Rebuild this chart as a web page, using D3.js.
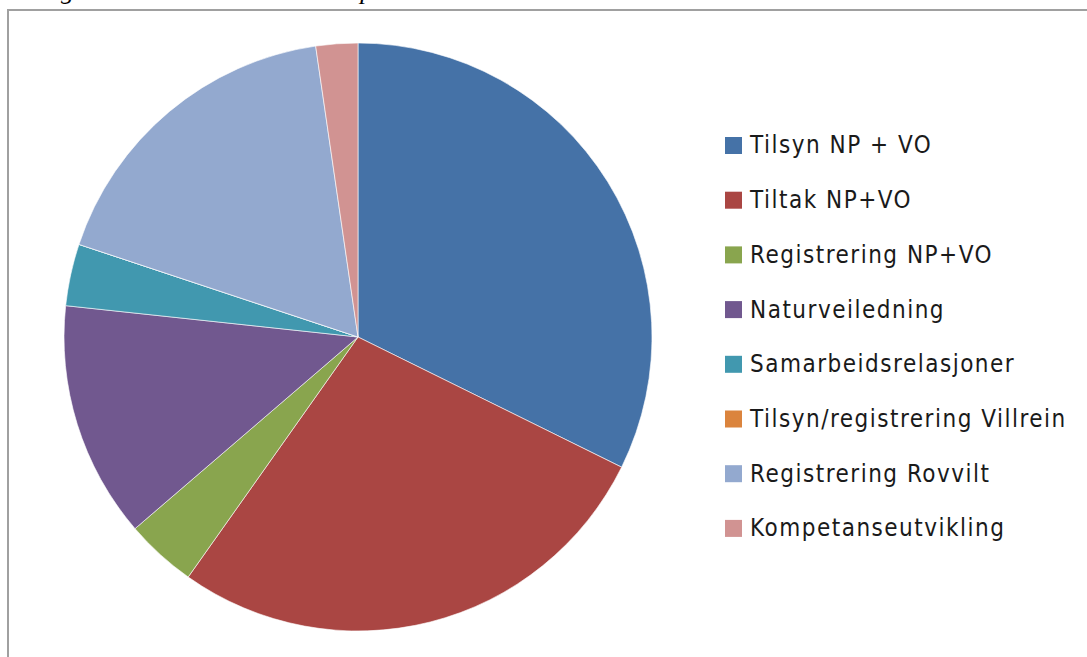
<!DOCTYPE html>
<html>
<head>
<meta charset="utf-8">
<script src="https://cdn.jsdelivr.net/npm/d3@7"></script>
<style>
  body { margin: 0; background: #fff; }
  svg { display: block; }
</style>
</head>
<body>
<div id="chart"></div>
<script>
// Données (en %)
const categories = [
  "Tilsyn NP + VO",
  "Tiltak NP+VO",
  "Registrering NP+VO",
  "Naturveiledning",
  "Samarbeidsrelasjoner",
  "Tilsyn/registrering Villrein",
  "Registrering Rovvilt",
  "Kompetanseutvikling"
];
const values = [32.3, 27.5, 3.9, 13.0, 3.4, 0, 17.6, 2.3];
const sliceColors = ["#4572A7", "#AA4643", "#89A54E", "#71588F", "#4198AF", "#DB843D", "#93A9CF", "#D19392"];
const caption = "Figur 3: Tidsbruk SNO Rana i prosent";

const width = 1087;
const height = 657;

const svg = d3.select("#chart")
  .append("svg")
  .attr("width", width)
  .attr("height", height);

// Légende de figure, coupée en haut comme sur l'original
svg.append("text")
  .attr("x", 38)
  .attr("y", -1)
  .attr("font-family", "Liberation Serif, serif")
  .attr("font-style", "italic")
  .attr("font-size", 26)
  .attr("fill", "#000")
  .text(caption);

// Cadre
svg.append("rect")
  .attr("x", 8)
  .attr("y", 10)
  .attr("width", 1200)
  .attr("height", 800)
  .attr("fill", "#fff")
  .attr("stroke", "#a0a0a0")
  .attr("stroke-width", 2);

// Secteurs
const cx = 358, cy = 337, radius = 294;
const g = svg.append("g").attr("transform", `translate(${cx},${cy})`);

const data = categories.map((c, i) => ({ name: c, value: values[i], color: sliceColors[i] }));
const pie = d3.pie().value(d => d.value).sort(null);
const arc = d3.arc().innerRadius(0).outerRadius(radius);

g.selectAll("path")
  .data(pie(data))
  .enter()
  .append("path")
  .attr("d", arc)
  .attr("fill", d => d.data.color)
  .attr("stroke", "#fff")
  .attr("stroke-width", 0.6);

// Légende
const legend = svg.append("g").attr("transform", "translate(725,145)");
const rowH = 54.7;

const rows = legend.selectAll("g")
  .data(data)
  .enter()
  .append("g")
  .attr("transform", (d, i) => `translate(0,${i * rowH})`);

rows.append("rect")
  .attr("x", 0)
  .attr("y", -8)
  .attr("width", 17)
  .attr("height", 17)
  .attr("fill", d => d.color);

rows.append("text")
  .attr("x", 25)
  .attr("y", 0)
  .attr("dy", "0.35em")
  .attr("font-family", "Liberation Sans Narrow, DejaVu Sans Condensed, sans-serif")
  .attr("font-size", 24)
  .attr("letter-spacing", 1.5)
  .attr("fill", "#1a1a1a")
  .text(d => d.name);
</script>
</body>
</html>
